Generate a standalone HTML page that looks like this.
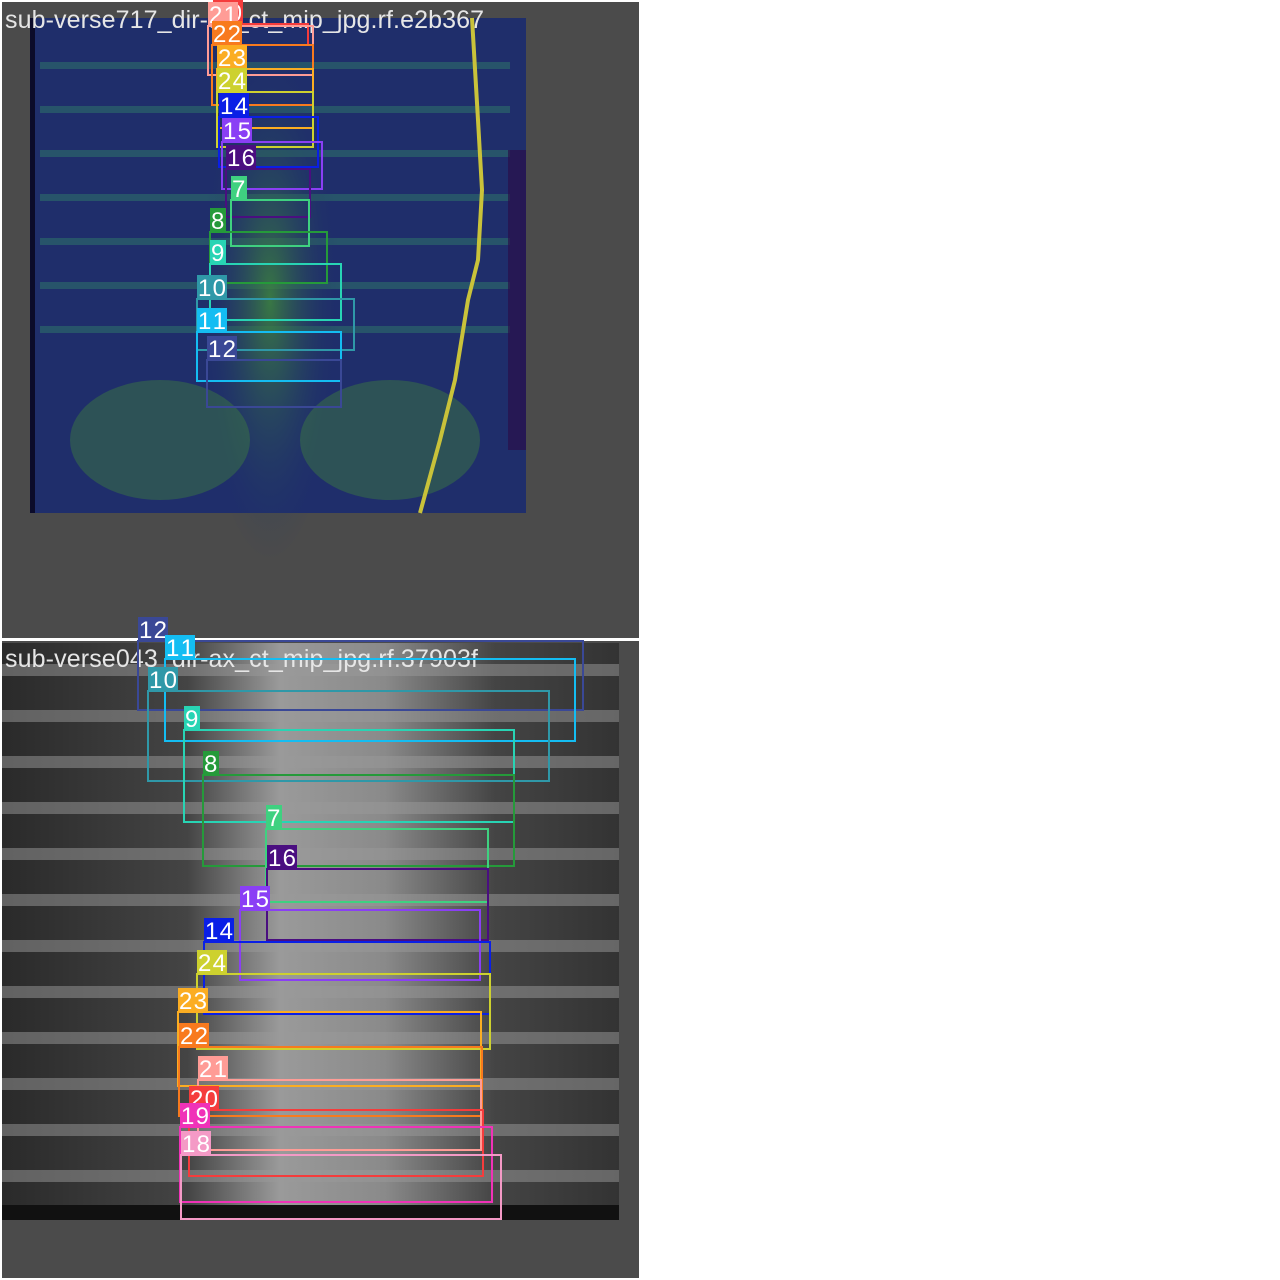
<!DOCTYPE html>
<html><head><meta charset="utf-8"><style>
html,body{margin:0;padding:0;background:#fff;width:1280px;height:1280px;overflow:hidden}
svg{display:block}
text{font-family:"Liberation Sans",Arial,sans-serif}
</style></head><body>
<svg id="chart" width="1280" height="1280" viewBox="0 0 1280 1280" xmlns="http://www.w3.org/2000/svg">
<defs>
<radialGradient id="spineG" cx="0.5" cy="0.5" r="0.5">
<stop offset="0" stop-color="#3f8a3a" stop-opacity="0.8"/><stop offset="1" stop-color="#1f2f6a" stop-opacity="0"/></radialGradient>
<linearGradient id="grayCol" x1="0" x2="1" y1="0" y2="0">
<stop offset="0" stop-color="#2a2a2a"/><stop offset="0.3" stop-color="#444"/><stop offset="0.45" stop-color="#9a9a9a"/><stop offset="0.62" stop-color="#8a8a8a"/><stop offset="0.8" stop-color="#444"/><stop offset="1" stop-color="#333"/></linearGradient>
<pattern id="ribsG" width="40" height="44" patternUnits="userSpaceOnUse"><rect y="18" width="40" height="7" fill="#2f7a6a" opacity="0.5"/></pattern>
<pattern id="ribsB" width="60" height="46" patternUnits="userSpaceOnUse"><rect y="20" width="60" height="12" fill="#9a9a9a" opacity="0.5"/></pattern>
</defs>
<g>
<rect x="2" y="2" width="637" height="636" fill="#4b4b4b"/>
<rect x="30" y="18" width="496" height="495" fill="#1f2e6b"/>
<rect x="40" y="50" width="470" height="300" fill="url(#ribsG)"/>
<ellipse cx="270" cy="300" rx="70" ry="260" fill="url(#spineG)"/>
<ellipse cx="160" cy="440" rx="90" ry="60" fill="#3d7f3d" opacity="0.45"/>
<ellipse cx="390" cy="440" rx="90" ry="60" fill="#3d7f3d" opacity="0.45"/>
<rect x="30" y="18" width="5" height="495" fill="#0b0b2a"/>
<rect x="508" y="150" width="18" height="300" fill="#2a0f4a" opacity="0.7"/>
<polyline points="472,18 478,120 482,190 478,260 468,300 455,380 440,440 420,513" fill="none" stroke="#c9c23a" stroke-width="4"/>
<text x="5" y="28" font-size="25" textLength="479" fill="#e6e6e6">sub-verse717_dir-ax_ct_mip_jpg.rf.e2b367</text>
<g id="topBoxes"></g>
</g>
<rect x="0" y="638" width="640" height="3" fill="#ffffff"/>
<g>
<rect x="2" y="641" width="637" height="637" fill="#4b4b4b"/>
<rect x="2" y="643" width="617" height="577" fill="url(#grayCol)"/>
<rect x="2" y="643" width="617" height="560" fill="url(#ribsB)"/>
<rect x="2" y="1205" width="617" height="15" fill="#111"/>
<text x="5" y="667" font-size="25" textLength="473" fill="#e6e6e6">sub-verse043_dir-ax_ct_mip_jpg.rf.37903f</text>
<g id="botBoxes"></g>
</g>
</svg>
<script>
// vertebra label ids
const topLabels = ["20","21","22","23","24","14","15","16","7","8","9","10","11","12"];
const topX0 = [213,208,212,217,217,219,222,226,231,210,210,197,197,207];
const topY0 = [24,26,45,69,92,117,142,169,200,232,264,299,332,360];
const topX1 = [308,313,313,313,313,318,322,310,309,327,341,354,341,341];
const topY1 = [45,75,105,128,147,167,189,217,246,283,320,350,381,407];
const botLabels = ["12","11","10","9","8","7","16","15","14","24","23","22","21","20","19","18"];
const botX0 = [138,165,148,184,203,266,267,240,204,197,178,179,198,189,180,181];
const botY0 = [641,659,691,730,775,829,869,910,942,974,1012,1047,1080,1110,1127,1155];
const botX1 = [583,575,549,514,514,488,488,480,490,490,481,482,481,483,492,501];
const botY1 = [710,741,781,822,866,902,940,980,1014,1049,1086,1116,1150,1176,1202,1219];
const colorOf = {"7":"#3fd180","8":"#259a3a","9":"#28d4b4","10":"#2f98a8","11":"#14bdf2","12":"#3a4896","14":"#0a1fe6","15":"#8a3ff5","16":"#4a0e80","18":"#f49ac6","19":"#f032b8","20":"#f53c3c","21":"#ff9c96","22":"#f87a1e","23":"#fbad22","24":"#cdd12f"};
const NS="http://www.w3.org/2000/svg";
function draw(gid, labels, x0s, y0s, x1s, y1s){
  const g=document.getElementById(gid);
  for(let i=0;i<labels.length;i++){
    const c=colorOf[labels[i]];
    const r=document.createElementNS(NS,"rect");
    r.setAttribute("x",x0s[i]);r.setAttribute("y",y0s[i]);
    r.setAttribute("width",x1s[i]-x0s[i]);r.setAttribute("height",y1s[i]-y0s[i]);
    r.setAttribute("fill","none");r.setAttribute("stroke",c);r.setAttribute("stroke-width","2");
    
    
    g.appendChild(r);
  }
  for(let i=0;i<labels.length;i++){
    const c=colorOf[labels[i]];
    const w=labels[i].length>1?30:16;
    const bg=document.createElementNS(NS,"rect");
    bg.setAttribute("x",x0s[i]);bg.setAttribute("y",y0s[i]-24);
    bg.setAttribute("width",w);bg.setAttribute("height",24);bg.setAttribute("fill",c);
    
    
    g.appendChild(bg);
    const t=document.createElementNS(NS,"text");
    t.setAttribute("x",x0s[i]+1);t.setAttribute("y",y0s[i]-3);
    t.setAttribute("font-size","24");t.setAttribute("fill","#ffffff");
    t.setAttribute("textLength",w-2);
    t.textContent=labels[i];
    
    
    g.appendChild(t);
  }
}
draw("topBoxes",topLabels,topX0,topY0,topX1,topY1);
draw("botBoxes",botLabels,botX0,botY0,botX1,botY1);
</script>
</body></html>
